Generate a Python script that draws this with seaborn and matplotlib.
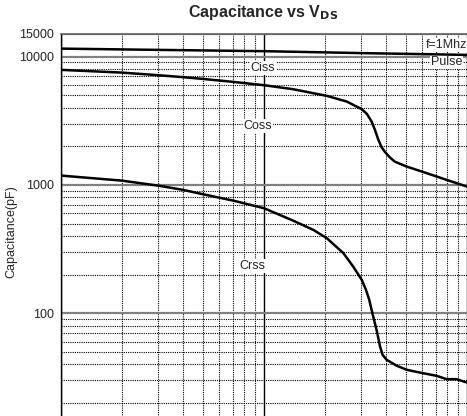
import numpy as np
import pandas as pd
import seaborn as sns
import matplotlib.pyplot as plt
from matplotlib.ticker import LogLocator, NullFormatter, FixedLocator, FixedFormatter

# values (VDS in V, capacitance in pF)
ciss_vds = [0.1, 0.3, 1.0, 3.0, 10.0]
ciss_cap = [11540, 11280, 11020, 10650, 10310]

coss_vds = [0.1, 0.199, 0.301, 0.4, 0.5, 0.706, 1.0, 1.39, 2.04, 2.56, 3.03, 3.21,
            3.39, 3.52, 3.66, 3.80, 3.95, 4.15, 4.4, 5.05, 6.33, 7.94, 10.0]
coss_cap = [7880, 7505, 7160, 6910, 6700, 6350, 5985, 5570, 4940, 4460, 3890, 3580,
            3115, 2684, 2243, 1960, 1800, 1650, 1520, 1389, 1234, 1094, 970]

crss_vds = [0.1, 0.199, 0.301, 0.4, 0.5, 0.706, 1.0, 1.39, 1.75, 2.04, 2.46, 2.75,
            3.03, 3.18, 3.30, 3.42, 3.6, 3.73, 3.84, 4.02, 4.5, 5.05, 6.0, 7.09,
            7.94, 8.9, 10.0]
crss_cap = [1182, 1080, 987, 914, 846, 754, 658, 527, 446, 384, 294, 231,
            182, 152, 127, 100, 72, 55, 47.3, 43.3, 39, 36.2, 34.2, 32.5,
            30.6, 30.6, 28.8]

ytick_vals = [100, 1000, 10000, 15000]
ytick_labels = ['100', '1000', '10000', '15000']

sns.set_style('white')
plt.rcParams['font.family'] = ['Liberation Sans', 'DejaVu Sans']

fig = plt.figure(figsize=(4.67, 4.16), dpi=100)
# plot area runs past the bottom edge, like the cropped original
ax = fig.add_axes([61 / 467, (416 - 441.5) / 416, 406 / 467, 407.5 / 416])
ax.set_xscale('log')
ax.set_yscale('log')
ax.set_xlim(0.1, 10)
ax.set_ylim(10, 15000)

# grid
ax.xaxis.set_minor_locator(LogLocator(base=10, subs=np.arange(2, 10)))
ax.yaxis.set_minor_locator(LogLocator(base=10, subs=np.arange(2, 10)))
ax.grid(which='minor', axis='both', color='black', linestyle=(0, (1, 1)), linewidth=0.8)
ax.grid(which='major', axis='y', color='#808080', linestyle='-', linewidth=1.6)
ax.grid(which='major', axis='x', color='black', linestyle='-', linewidth=1.0)
ax.set_axisbelow(True)

for vds, cap in [(ciss_vds, ciss_cap), (coss_vds, coss_cap), (crss_vds, crss_cap)]:
    df = pd.DataFrame({'vds': vds, 'cap': cap})
    sns.lineplot(data=df, x='vds', y='cap', ax=ax, color='black', linewidth=1.8,
                 sort=False, zorder=5)

ax.yaxis.set_major_locator(FixedLocator(ytick_vals))
ax.yaxis.set_major_formatter(FixedFormatter(ytick_labels))
ax.yaxis.set_minor_formatter(NullFormatter())
ax.xaxis.set_major_formatter(NullFormatter())
ax.xaxis.set_minor_formatter(NullFormatter())
ax.tick_params(axis='both', which='both', length=0)
ax.tick_params(axis='y', labelsize=9, pad=5)
ax.set_xlabel('')
ax.set_ylabel('Capacitance(pF)', fontsize=9)
ax.yaxis.set_label_coords((17 - 61) / 406, (416 - 232 - (416 - 441.5)) / 407.5)

for side in ['right', 'bottom']:
    ax.spines[side].set_visible(False)
ax.spines['left'].set_color('black')
ax.spines['left'].set_linewidth(1.0)
ax.spines['top'].set_color('#606060')
ax.spines['top'].set_linewidth(1.2)

box = dict(facecolor='white', edgecolor='none', pad=0.5)
labels = [('Ciss', 0.99, 8170), ('Coss', 0.934, 2884), ('Crss', 0.88, 234),
          ('f=1Mhz', 7.9, 12330), ('Pulse', 7.9, 9045)]
for txt, x, y in labels:
    ax.text(x, y, txt, fontsize=9, ha='center', va='center', bbox=box, zorder=4)

fig.text(263 / 467, 1 - 13 / 416, r'Capacitance vs V$_{\mathbf{DS}}$', fontsize=11.5,
         fontweight='bold', ha='center', va='center')

fig.savefig('out.png', dpi=100)
